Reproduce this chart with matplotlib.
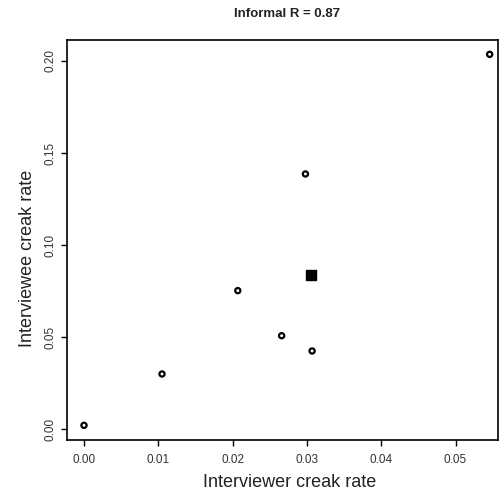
import matplotlib
matplotlib.use("Agg")
import matplotlib.pyplot as plt

interviewer = [0.0, 0.0105, 0.0207, 0.0266, 0.0298, 0.0307, 0.0546]
interviewee = [0.0020, 0.0299, 0.0752, 0.0507, 0.1386, 0.0424, 0.2036]
square_x = [0.0305]
square_y = [0.0837]
xticks = [0.00, 0.01, 0.02, 0.03, 0.04, 0.05]
yticks = [0.00, 0.05, 0.10, 0.15, 0.20]

plt.rcParams['font.family'] = ['Liberation Sans', 'DejaVu Sans']

fig = plt.figure(figsize=(5, 4.9), dpi=100)
ax = fig.add_axes([67/500, 50/490, 431/500, 400/490])

ax.scatter(interviewer, interviewee, s=14, facecolors='none', edgecolors='black', linewidths=1.6)
ax.scatter(square_x, square_y, s=55, marker='s', color='black')

ax.set_xlim(-0.00229, 0.05572)
ax.set_ylim(-0.00598, 0.2114)
ax.set_xticks(xticks)
ax.set_xticklabels(["%.2f" % v for v in xticks])
ax.set_yticks(yticks)
ax.set_yticklabels(["%.2f" % v for v in yticks], rotation=90, va='center')
ax.tick_params(direction='out', length=4, width=1, labelsize=8.5, colors='black', labelcolor='#333333')
ax.tick_params(axis='y', pad=3.5)
ax.tick_params(axis='x', pad=6)
for s in ax.spines.values():
    s.set_linewidth(1.2)

ax.set_xlabel("Interviewer creak rate", fontsize=13, color='#222222')
ax.xaxis.set_label_coords(0.517, -0.105)
ax.xaxis.label.set_va('center')
ax.set_ylabel("Interviewee creak rate", fontsize=13, color='#222222')
ax.yaxis.set_label_coords(-0.0905, 0.455)
ax.yaxis.label.set_va('center')
fig.text(287/500, 1 - 14/490, "Informal R = 0.87", ha='center', va='center', fontsize=9.5, fontweight='bold', color='#222222')

fig.savefig("out.png", dpi=100)
